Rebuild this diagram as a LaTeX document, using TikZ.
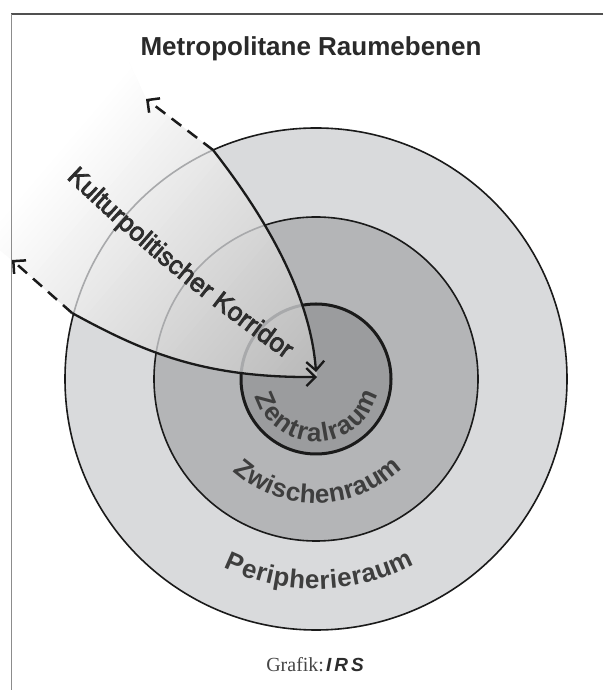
\documentclass[tikz,border=0pt]{standalone}
\usepackage{fontspec}
\setmainfont{Liberation Sans}
\newfontfamily\serifff{Liberation Serif}
\newfontfamily\medfont{Liberation Sans}[FakeBold=3]
\usetikzlibrary{arrows.meta,decorations.text}
\definecolor{ringout}{RGB}{217,218,220}
\definecolor{ringmid}{RGB}{180,181,183}
\definecolor{ringin}{RGB}{155,156,158}
\definecolor{ink}{RGB}{26,26,26}
\definecolor{lbl}{RGB}{62,62,62}
\definecolor{ghost}{RGB}{168,169,171}
\definecolor{framedark}{RGB}{80,80,80}
\definecolor{framelight}{RGB}{140,140,140}
\newcommand\corrstrips[1]{%
  \begin{scope}[shift={(C)},rotate=139.5]
  \foreach \u in {-120,-114,...,360}{%
    \pgfmathsetmacro\gv{max(0,min(1,(194+0.178788*\u-#1)/255))}%
    \definecolor{stripc}{gray}{\gv}%
    \fill[stripc] (\u,-420) rectangle (\u+12,420);
  }
  \end{scope}}
\begin{document}
\begin{tikzpicture}[x=1pt,y=1pt,
  corrline/.style={ink, line width=2.3pt},
  corrdash/.style={ink, line width=2.5pt, dash pattern=on 12pt off 8pt},
  barb/.style={-{Straight Barb[length=9pt,width=18pt]}},
  ringline/.style={ink, line width=1.6pt},
  ghostline/.style={ghost, line width=1.6pt},
  ringlabel/.style={decorate, decoration={text along path, text align={fit to path}, text color=lbl}}]
\useasboundingbox (0,0) rectangle (603,690);
\fill[white] (0,0) rectangle (603,690);
% title
\node[font=\bfseries\fontsize{26}{30}\selectfont, text={rgb,255:red,42;green,42;blue,42}, anchor=base] (title) at (311,634) {Metropolitane Raumebenen};
% coordinates
\coordinate (C) at (316,311);
\coordinate (A1) at (213,540);
\coordinate (A2) at (72,377);
\coordinate (T1) at (316,318);
\coordinate (T2) at (317,313);
\coordinate (D1) at (146,591);
\coordinate (D2) at (12,430);
% rings
\fill[ringout] (C) circle[radius=251];
\fill[ringmid] (C) circle[radius=162];
\fill[ringin] (C) circle[radius=75];
\draw[ringline] (C) circle[radius=251];
\draw[ringline] (C) circle[radius=162];
\draw[ringline, line width=3pt] (C) circle[radius=75];
% corridor overlay
\begin{scope}
  \clip (A2) .. controls (140,340) and (200,312) .. (T2) -- (T1) .. controls (310,400) and (260,480) .. (A1) -- (D1) -- (100,690) -- (0,690) -- (0,440) -- (D2) -- cycle;
  \corrstrips{0}
  \begin{scope}\clip (C) circle[radius=251]; \corrstrips{2}\end{scope}
  \begin{scope}\clip (C) circle[radius=162]; \corrstrips{5}\end{scope}
  \begin{scope}\clip (C) circle[radius=75]; \corrstrips{8}\end{scope}
  \draw[ghostline] (C) circle[radius=251];
  \draw[ghostline] (C) circle[radius=162];
  \draw[ghostline, line width=3pt] (C) circle[radius=75];
\end{scope}
% frame
\draw[framedark, line width=1.2pt] (603,676) -- (11,676);
\draw[framelight, line width=1pt] (11,676) -- (11,0);
% corridor arrows
\draw[corrline, barb] (A1) .. controls (260,480) and (310,400) .. (T1);
\draw[corrline, barb] (A2) .. controls (140,340) and (200,312) .. (T2);
\draw[corrdash, barb] (A1) -- (D1);
\draw[corrdash, barb] (A2) -- (D2);
% labels
\path[decorate, decoration={text along path, text={|\medfont\fontsize{26}{26}\selectfont|Kulturpolitischer Korridor}, text align={center}, text color={rgb,255:red,46;green,46;blue,46}}] (64,514) to[bend right=4] (288,329);
\path[ringlabel, decoration={text={|\bfseries\fontsize{26}{26}\selectfont|Zentralraum}}] (C) ++(196:63) arc[start angle=196, end angle=346, radius=63];
\path[ringlabel, decoration={text={|\bfseries\fontsize{26}{26}\selectfont|Zwischenraum}}] (C) ++(228:124) arc[start angle=228, end angle=314, radius=124];
\path[ringlabel, decoration={text={|\bfseries\fontsize{26}{26}\selectfont|Peripherieraum}}] (C) ++(244:210) arc[start angle=244, end angle=298, radius=210];
% credit
\node[anchor=base, inner sep=0pt] (credit) at (315,18) {{\serifff\fontsize{20}{24}\selectfont\color[RGB]{70,70,70}Grafik:}\kern2pt{\bfseries\itshape\fontsize{19}{22}\selectfont\color[RGB]{45,45,45}I\kern3pt R\kern3pt S}};
\end{tikzpicture}
\end{document}
